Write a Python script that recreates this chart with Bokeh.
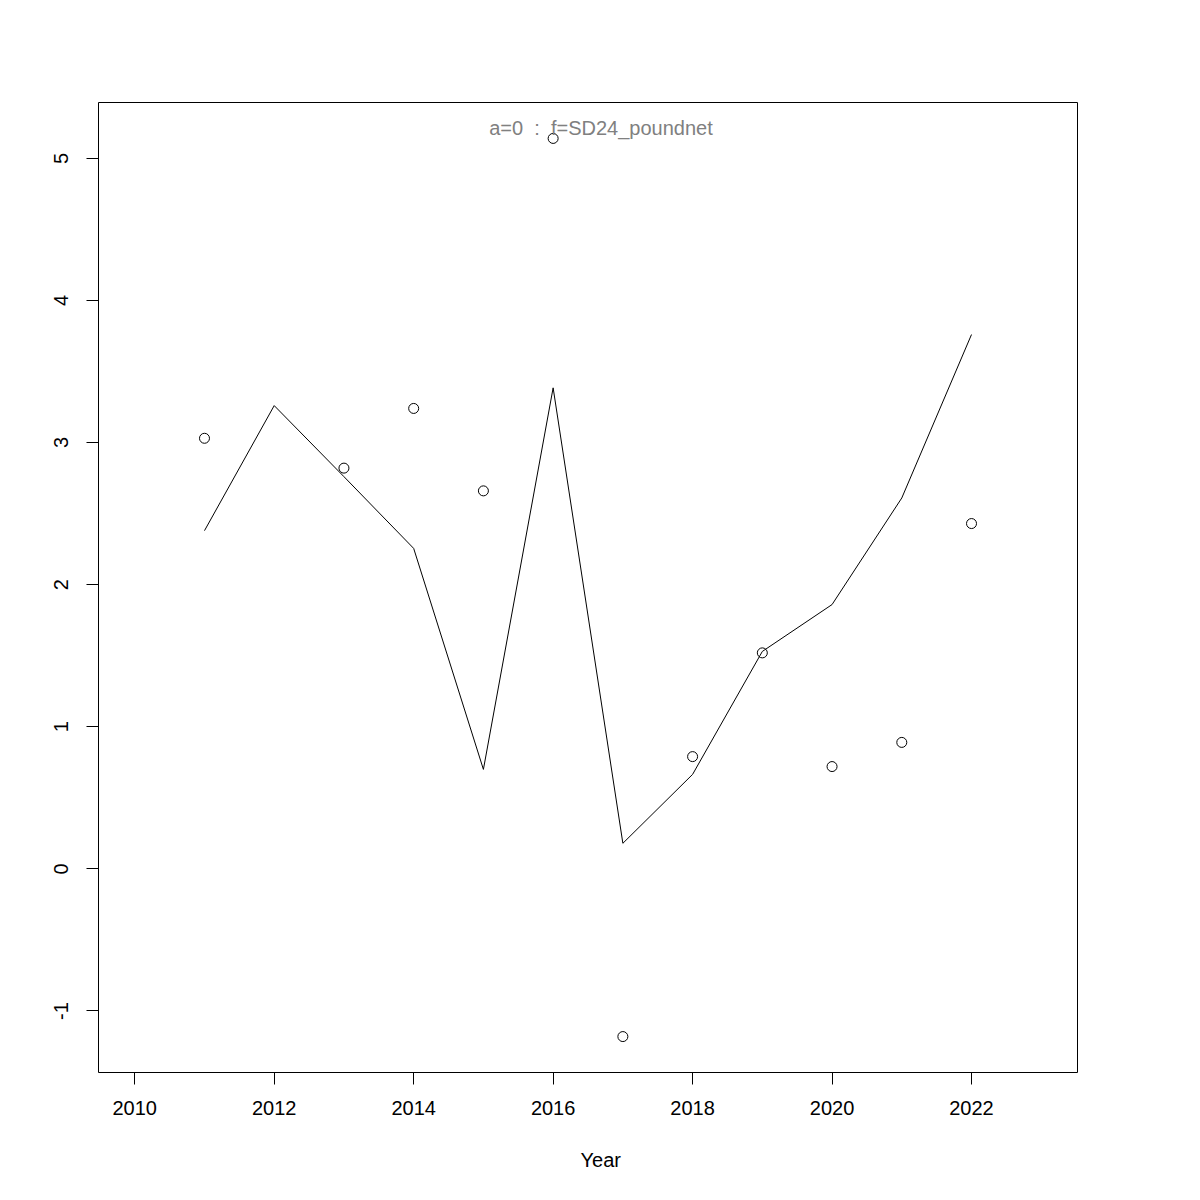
from bokeh.plotting import figure
from bokeh.models import Range1d, FixedTicker, Label, Title
from bokeh.embed import file_html
from bokeh.resources import INLINE

# ---- data ----
obs_years = [2011, 2013, 2014, 2015, 2016, 2017, 2018, 2019, 2020, 2021, 2022]
obs_values = [3.03, 2.82, 3.24, 2.66, 5.14, -1.18, 0.79, 1.52, 0.72, 0.89, 2.43]

fit_years = [2011, 2012, 2013, 2014, 2015, 2016, 2017, 2018, 2019, 2020, 2021, 2022]
fit_values = [2.38, 3.26, 2.76, 2.255, 0.70, 3.385, 0.18, 0.665, 1.53, 1.86, 2.61, 3.76]

x_ticks = [2010, 2012, 2014, 2016, 2018, 2020, 2022]
y_ticks = [-1, 0, 1, 2, 3, 4, 5]
y_tick_labels = {t: str(t) for t in y_ticks}
x_lim = [2010, 2023]
title_text = "a=0 \u00a0:\u00a0 f=SD24_poundnet"
x_label = "Year"

# R-style 4% range extension
def ext(lo, hi, f=0.04):
    d = (hi - lo) * f
    return lo - d, hi + d

xlo, xhi = ext(*x_lim)
allv = obs_values + fit_values
ylo, yhi = ext(min(allv), max(allv))

FONT = "Liberation Sans"

p = figure(width=1184, height=1200, output_backend="svg", toolbar_location=None,
           x_range=Range1d(xlo, xhi), y_range=Range1d(ylo, yhi),
           min_border_left=98, min_border_right=107, min_border_top=102,
           min_border_bottom=128)

p.background_fill_color = "white"
p.border_fill_color = "white"
p.outline_line_color = "black"
p.outline_line_width = 1
p.grid.visible = False

p.line(fit_years, fit_values, line_color="black", line_width=1)
p.scatter(obs_years, obs_values, marker="circle", size=10, fill_color=None,
          line_color="black", line_width=1)

for ax in (p.xaxis[0], p.yaxis[0]):
    ax.major_tick_out = 12
    ax.major_tick_in = 0
    ax.minor_tick_line_color = None
    ax.axis_line_color = "black"
    ax.axis_line_width = 1
    ax.major_tick_line_color = "black"
    ax.major_tick_line_width = 1
    ax.major_label_text_font = FONT
    ax.major_label_text_font_size = "20px"
    ax.major_label_text_color = "black"

p.xaxis[0].ticker = FixedTicker(ticks=x_ticks)
p.xaxis[0].bounds = (min(x_ticks), max(x_ticks))
p.xaxis[0].major_label_standoff = 16

p.yaxis[0].ticker = FixedTicker(ticks=y_ticks)
p.yaxis[0].bounds = (min(y_ticks), max(y_ticks))
p.yaxis[0].major_label_orientation = "vertical"
p.yaxis[0].major_label_standoff = 18
p.yaxis[0].major_label_overrides = y_tick_labels

p.add_layout(Title(text=x_label, align="left", offset=482, standoff=59,
                   text_font=FONT, text_font_size="20px", text_font_style="normal",
                   text_color="black"), "below")

p.add_layout(Label(x=502.5, y=945, x_units="screen", y_units="screen",
                   text=title_text, text_align="center", text_baseline="alphabetic",
                   text_font=FONT, text_font_size="20px", text_color="#808080"))

open("out.html", "w").write(file_html(p, INLINE))
